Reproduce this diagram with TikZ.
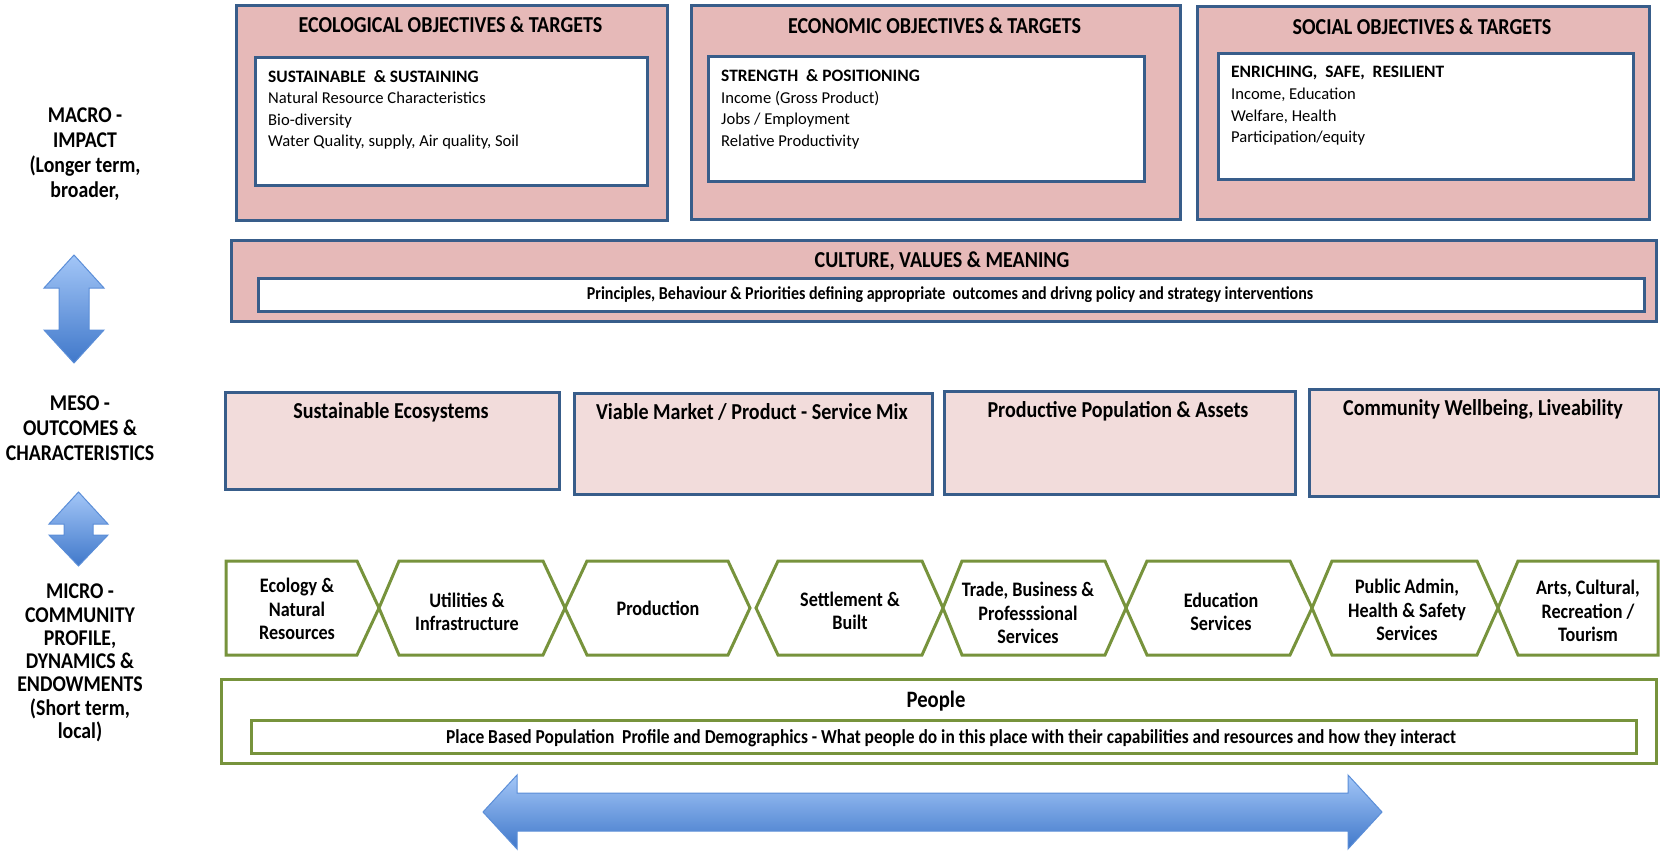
\documentclass[tikz,border=0pt]{standalone}
\usepackage{fontspec}
\setmainfont{Carlito}
\newfontfamily\cond[FakeStretch=0.88]{Carlito}
\definecolor{boxblue}{HTML}{385D8A}
\definecolor{pinkA}{HTML}{E6B9B8}
\definecolor{pinkB}{HTML}{F2DCDB}
\definecolor{olive}{HTML}{77933C}
\definecolor{arrtop}{HTML}{A3C6F7}
\definecolor{arrbot}{HTML}{4078CA}
\definecolor{arrline}{HTML}{5B8ED8}
\tikzset{
  outerbox/.style={draw=boxblue, line width=3pt, fill=pinkA, inner sep=0pt, anchor=north west},
  mesobox/.style={draw=boxblue, line width=3pt, fill=pinkB, inner sep=0pt, anchor=north west},
  whitebox/.style={draw=boxblue, line width=3pt, fill=white, inner sep=0pt, anchor=north west},
  greenbox/.style={draw=olive, line width=3pt, fill=white, inner sep=0pt, anchor=north west},
  hexline/.style={draw=olive, line width=3pt, fill=white},
  bigarrow/.style={top color=arrtop, bottom color=arrbot, draw=arrline, line width=1pt},
  titletext/.style={font=\cond\bfseries\fontsize{22.8}{26}\selectfont, inner sep=0pt},
  headtext/.style={font=\bfseries\fontsize{17.4}{22}\selectfont, inner sep=0pt, anchor=west},
  bodytext/.style={font=\fontsize{16.6}{21.5}\selectfont, align=left, inner sep=0pt, anchor=north west},
  mesotext/.style={font=\cond\bfseries\fontsize{22.8}{26}\selectfont, inner sep=0pt},
  hextext/.style={font=\cond\bfseries\fontsize{20.6}{23.5}\selectfont, align=center, inner sep=0pt},
  subtext/.style={font=\cond\bfseries\fontsize{18.2}{20}\selectfont, inner sep=0pt},
  sidetext/.style={font=\cond\bfseries\fontsize{22.5}{25}\selectfont, align=center, inner sep=0pt}
}
\begin{document}
\begin{tikzpicture}[x=1pt,y=-1pt]
\useasboundingbox (0,0) rectangle (1660,851);
% ---------- top objective boxes
\node[outerbox, minimum width=431, minimum height=215] (eco) at (235,4) {};
\node[outerbox, minimum width=489, minimum height=214] (econ) at (690,4) {};
\node[outerbox, minimum width=452, minimum height=213] (soc) at (1196,5) {};
\node[whitebox, minimum width=392, minimum height=128] (ecoin) at (254,56) {};
\node[whitebox, minimum width=436, minimum height=125] (econin) at (707,55) {};
\node[whitebox, minimum width=415, minimum height=126] (socin) at (1217,52) {};
\node[titletext] (ecot) at (450.5,25) {ECOLOGICAL OBJECTIVES \& TARGETS};
\node[titletext] (econt) at (934.5,26) {ECONOMIC OBJECTIVES \& TARGETS};
\node[titletext] (soct) at (1422,27) {SOCIAL OBJECTIVES \& TARGETS};
\node[headtext] (ecoh) at (268,77) {SUSTAINABLE\ \ \& SUSTAINING};
\node[bodytext] (ecob) at (268,92) {Natural Resource Characteristics\\Bio-diversity\\Water Quality, supply, Air quality, Soil};
\node[headtext] (econh) at (721,76) {STRENGTH\ \ \& POSITIONING};
\node[bodytext] (econb) at (721,91) {Income (Gross Product)\\Jobs / Employment\\Relative Productivity};
\node[headtext] (soch) at (1231,73) {ENRICHING,\ \ SAFE,\ \ RESILIENT};
\node[bodytext] (socb) at (1231,88) {Income, Education\\Welfare, Health\\Participation/equity};
% ---------- culture
\node[outerbox, minimum width=1425, minimum height=81] (cult) at (230,239) {};
\node[whitebox, minimum width=1386, minimum height=33] (cultin) at (257,277) {};
\node[titletext] (cultt) at (942,261) {CULTURE, VALUES \& MEANING};
\node[subtext] (cults) at (950,295) {Principles, Behaviour \& Priorities defining appropriate\ \ outcomes and drivng policy and strategy interventions};
% ---------- meso boxes
\node[mesobox, minimum width=334, minimum height=97] (m1) at (224,391) {};
\node[mesobox, minimum width=358, minimum height=101] (m2) at (573,392) {};
\node[mesobox, minimum width=351, minimum height=103] (m3) at (943,390) {};
\node[mesobox, minimum width=350, minimum height=107] (m4) at (1308,388) {};
\node[mesotext] (m1t) at (391,412) {Sustainable Ecosystems};
\node[mesotext] (m2t) at (752,412) {Viable Market / Product - Service Mix};
\node[mesotext] (m3t) at (1118,411) {Productive Population \& Assets};
\node[mesotext] (m4t) at (1483,409) {Community Wellbeing, Liveability};
% ---------- hexagon row
\draw[hexline] (226,561) -- (357,561) -- (379,608) -- (357,655) -- (226,655) -- cycle;
\draw[hexline] (379,608) -- (399,561) -- (543,561) -- (565,608) -- (543,655) -- (399,655) -- cycle;
\draw[hexline] (565,608) -- (587,561) -- (728,561) -- (750,608) -- (728,655) -- (587,655) -- cycle;
\draw[hexline] (756,608) -- (778,561) -- (922,561) -- (943,608) -- (922,655) -- (778,655) -- cycle;
\draw[hexline] (943,608) -- (962,561) -- (1105,561) -- (1126,608) -- (1105,655) -- (962,655) -- cycle;
\draw[hexline] (1126,608) -- (1147,561) -- (1290,561) -- (1312,608) -- (1290,655) -- (1147,655) -- cycle;
\draw[hexline] (1312,608) -- (1332,561) -- (1477,561) -- (1498,608) -- (1477,655) -- (1332,655) -- cycle;
\draw[hexline] (1498,608) -- (1518,561) -- (1658,561) -- (1658,655) -- (1518,655) -- cycle;
\node[hextext] (h1) at (297,609) {Ecology \&\\Natural\\Resources};
\node[hextext] (h2) at (467,612) {Utilities \&\\Infrastructure};
\node[hextext] (h3) at (658,608) {Production};
\node[hextext] (h4) at (850,611) {Settlement \&\\Built};
\node[hextext] (h5) at (1028,613) {Trade, Business \&\\Professsional\\Services};
\node[hextext] (h6) at (1221,612) {Education\\Services};
\node[hextext] (h7) at (1407,610) {Public Admin,\\Health \& Safety\\Services};
\node[hextext] (h8) at (1588,611) {Arts, Cultural,\\Recreation /\\Tourism};
% ---------- people
\node[greenbox, minimum width=1435, minimum height=84] (ppl) at (220,678) {};
\node[greenbox, minimum width=1385, minimum height=33] (pplin) at (250,719) {};
\node[mesotext, font=\cond\bfseries\fontsize{23.5}{26}\selectfont] (pplt) at (936,701) {People};
\node[subtext, font=\cond\bfseries\fontsize{19.8}{22}\selectfont] (ppls) at (951,738) {Place Based Population\ \ Profile and Demographics - What people do in this place with their capabilities and resources and how they interact};
% ---------- side labels
\node[sidetext] (macro) at (85,154) {MACRO -\\IMPACT\\(Longer term,\\broader,};
\node[sidetext] (meso) at (80,428) {MESO -\\OUTCOMES \&\\CHARACTERISTICS};
\node[sidetext, font=\cond\bfseries\fontsize{22.5}{23.3}\selectfont] (micro) at (80,663) {MICRO -\\COMMUNITY\\PROFILE,\\DYNAMICS \&\\ENDOWMENTS\\(Short term,\\local)};
% ---------- arrows
\shade[bigarrow] (74,255) -- (104,288) -- (89,288) -- (89,330) -- (104,330) -- (74,363) -- (44,330) -- (59,330) -- (59,288) -- (44,288) -- cycle;
\shade[bigarrow] (78.5,492) -- (108,524) -- (93,524) -- (93,535) -- (108,535) -- (78.5,566) -- (49,535) -- (64,535) -- (64,524) -- (49,524) -- cycle;
\shade[bigarrow] (483,812) -- (517,775) -- (517,793) -- (1348,793) -- (1348,775) -- (1382,812) -- (1348,849) -- (1348,831) -- (517,831) -- (517,849) -- cycle;
\end{tikzpicture}
\end{document}
